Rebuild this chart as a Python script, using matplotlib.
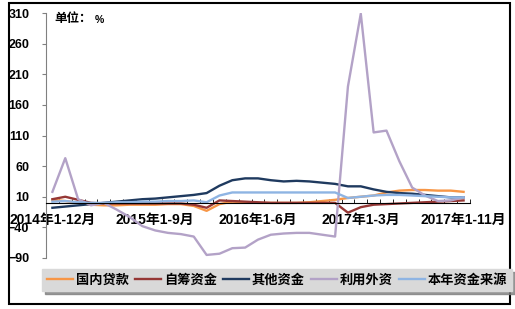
import numpy as np
import matplotlib
matplotlib.use('Agg')
import matplotlib.pyplot as plt
from matplotlib.patches import Rectangle

plt.rcParams['font.family'] = ['Liberation Sans', 'Noto Sans CJK SC', 'DejaVu Sans']
plt.rcParams['font.weight'] = 'bold'

# months: 2014年1-12月 ... 2017年1-11月 (33 points)
periods = ['2014年1-12月'] + \
    ['2015年1-%d月' % m for m in range(2, 13)] + \
    ['2016年1-%d月' % m for m in range(2, 13)] + \
    ['2017年1-%d月' % m for m in range(2, 12)]

domestic_loans = [5, 3, 0, -3, -4, -4, -3, -3, -3, -2, -2, -5, -13, -2, 2, 1, 0,
                  0, 0, 0, 1, 3, 5, 8, 10, 12, 17, 20, 21, 21, 20, 20, 18]
self_raised = [6, 10, 5, 0, -1, -1, -1, -1, -1, -1, -1, -3, -8, 4, 3, 2, 1,
               0, 0, 0, 0, 0, 0, -16, -7, -3, -2, -1, 0, 1, 2, 3, 4]
other_funds = [-8, -6, -4, -2, 0, 2, 4, 6, 7, 9, 11, 13, 16, 28, 37, 40, 40,
               37, 35, 36, 35, 33, 31, 27, 27, 22, 18, 16, 15, 13, 11, 9, 9]
foreign_capital = [18, 73, 6, -4, 0, -11, -23, -38, -45, -49, -51, -55, -85, -83, -74, -73, -60,
                   -52, -50, -49, -49, -52, -55, 190, 309, 115, 118, 68, 25, 12, 3, 4, 9]
total_funds = [2, 3, 1, 0, 0, 1, 1, 2, 2, 3, 3, 4, 1, 12, 17, 17, 17,
               17, 17, 17, 17, 17, 17, 8, 10, 12, 13, 13, 12, 11, 10, 9, 9]

series = [
    ('国内贷款', domestic_loans, '#F79646'),
    ('自筹资金', self_raised, '#953735'),
    ('其他资金', other_funds, '#1F3A5F'),
    ('利用外资', foreign_capital, '#B3A2C7'),
    ('本年资金来源', total_funds, '#8EB4E3'),
]

fig = plt.figure(figsize=(5.15, 3.09), dpi=100)
ax = fig.add_axes([46 / 515, 1 - 258 / 309, 424 / 515, 245 / 309])

x = np.arange(len(periods))
for name, vals, color in series:
    ax.plot(x, vals, color=color, lw=1.7, label=name, solid_joinstyle='round')

ax.set_xlim(-0.5, len(periods) - 0.5)
ax.set_ylim(-90, 310)
ax.set_yticks(range(-90, 311, 50))

label_idx = [0, 8, 16, 24, 32]
ax.set_xticks(label_idx)
ax.set_xticklabels([periods[i] for i in label_idx], fontsize=9, fontweight='bold')
ax.set_xticks(np.arange(-0.5, len(periods), 1), minor=True)
ax.tick_params(axis='x', which='major', length=0, pad=7)
ax.tick_params(axis='x', which='minor', direction='in', length=3, color='black')
ax.tick_params(axis='y', length=3, color='#808080', pad=9, labelsize=9)
for lab in ax.get_yticklabels():
    lab.set_fontweight('bold')

ax.spines['top'].set_visible(False)
ax.spines['right'].set_visible(False)
ax.spines['bottom'].set_position(('data', 0))
ax.spines['bottom'].set_color('black')
ax.spines['left'].set_color('#808080')

ax.text(0.02, 0.975, '单位：', transform=ax.transAxes, fontsize=9,
        fontweight='bold', va='center', ha='left')
ax.text(0.115, 0.972, '%', transform=ax.transAxes, fontsize=7.5,
        fontweight='bold', va='center', ha='left')

leg = fig.legend(loc='center', bbox_to_anchor=(277 / 515, 1 - 280 / 309), ncol=5,
                 fontsize=9.5, handlelength=2.0, handletextpad=0.2,
                 columnspacing=0.45, frameon=True, fancybox=False,
                 shadow={'color': '#7F7F7F', 'alpha': 0.8}, borderpad=0.35)
leg.get_frame().set_facecolor('#D9D9D9')
leg.get_frame().set_edgecolor('#D9D9D9')
for t in leg.get_texts():
    t.set_fontweight('bold')

fig.patches.append(Rectangle((9 / 515, 5 / 309), 501 / 515, 301 / 309, fill=False,
                             edgecolor='black', lw=1.5, transform=fig.transFigure))

fig.savefig('out.png', dpi=100)
